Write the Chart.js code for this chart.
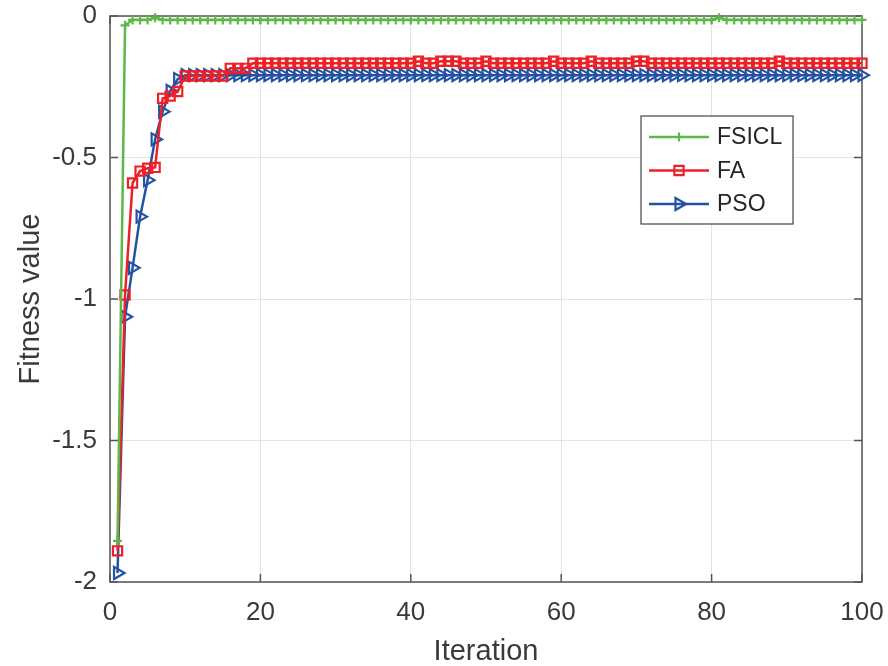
<!DOCTYPE html>
<html>
<head>
<meta charset="utf-8">
<script src="https://cdn.jsdelivr.net/npm/chart.js@4/dist/chart.umd.min.js"></script>
<style>
  html, body { margin: 0; padding: 0; background: #fff; }
  #wrap { width: 888px; height: 666px; }
</style>
</head>
<body>
<div id="wrap"><canvas id="grafico"></canvas></div>
<script>
// dados (iteracao 1..100)
const iteracoes = [];
for (let i = 1; i <= 100; i++) iteracoes.push(i);

// FSICL: sobe quase direto pra perto de zero
const fsiclInicio = [-1.855, -0.033, -0.014, -0.014, -0.014, -0.006];
const fsiclPlato = -0.014;
const fsiclPicos = { 81: -0.006 };

// FA
const faInicio = [-1.89, -0.986, -0.59, -0.548, -0.538, -0.535, -0.291, -0.283, -0.267,
  -0.212, -0.212, -0.212, -0.212, -0.212, -0.212, -0.185, -0.185, -0.185];
const faPlato = -0.167;
const faPicos = [41, 44, 45, 46, 50, 59, 64, 70, 71, 89];
const faPico = -0.160;

// PSO
const psoInicio = [-1.968, -1.063, -0.89, -0.709, -0.58, -0.436, -0.338, -0.265, -0.223];
const psoPlato = -0.209;

const xTicks = [0, 20, 40, 60, 80, 100];
const yTicks = [0, -0.5, -1, -1.5, -2];

// monta as series completas a partir dos pedacos acima
const fsicl = iteracoes.map(function (it) {
  if (it <= fsiclInicio.length) return fsiclInicio[it - 1];
  if (fsiclPicos[it] !== undefined) return fsiclPicos[it];
  return fsiclPlato;
});
const fa = iteracoes.map(function (it) {
  if (it <= faInicio.length) return faInicio[it - 1];
  if (faPicos.indexOf(it) >= 0) return faPico;
  return faPlato;
});
const pso = iteracoes.map(function (it) {
  if (it <= psoInicio.length) return psoInicio[it - 1];
  return psoPlato;
});

const fonte = "'Liberation Sans', Arial, Helvetica, sans-serif";
const corTexto = "#3a3a3a";
const corEixo = "#555555";

function pontos(valores) {
  return iteracoes.map(function (it, i) { return { x: it, y: valores[i] }; });
}

const series = [
  { nome: "FSICL", valores: fsicl, cor: "#5cb946", marcador: "cross", raio: 4.5, rot: 0 },
  { nome: "FA", valores: fa, cor: "#ee2027", marcador: "rect", raio: 6.5, rot: 0 },
  { nome: "PSO", valores: pso, cor: "#2452a3", marcador: "triangle", raio: 7, rot: 90 }
];

// tira o espaco extra que o chart.js reserva pros rotulos das pontas
function semSobra(s) {
  s.paddingTop = 0; s.paddingBottom = 0; s.paddingLeft = 0; s.paddingRight = 0;
}

// moldura + ticks pra dentro, estilo matlab
const moldura = {
  id: "moldura",
  beforeDatasetsDraw(chart) {
    const ctx = chart.ctx;
    const a = chart.chartArea;
    const sx = chart.scales.x, sy = chart.scales.y;
    ctx.save();
    ctx.strokeStyle = corEixo;
    ctx.lineWidth = 1.5;
    ctx.strokeRect(a.left, a.top, a.right - a.left, a.bottom - a.top);
    ctx.beginPath();
    xTicks.forEach(function (v) {
      const px = sx.getPixelForValue(v);
      ctx.moveTo(px, a.bottom); ctx.lineTo(px, a.bottom - 8);
      ctx.moveTo(px, a.top); ctx.lineTo(px, a.top + 8);
    });
    yTicks.forEach(function (v) {
      const py = sy.getPixelForValue(v);
      ctx.moveTo(a.left, py); ctx.lineTo(a.left + 8, py);
      ctx.moveTo(a.right, py); ctx.lineTo(a.right - 8, py);
    });
    ctx.stroke();
    ctx.restore();
  }
};

// legenda desenhada na mao dentro da area
const legenda = {
  id: "legenda",
  afterDraw(chart) {
    const ctx = chart.ctx;
    const x0 = 641, y0 = 116, w = 152, h = 108;
    ctx.save();
    ctx.fillStyle = "#ffffff";
    ctx.fillRect(x0, y0, w, h);
    ctx.strokeStyle = "#444444";
    ctx.lineWidth = 1.2;
    ctx.strokeRect(x0, y0, w, h);
    ctx.font = "23px " + fonte;
    ctx.textBaseline = "middle";
    series.forEach(function (s, i) {
      const y = y0 + 21 + i * 33.5;
      ctx.strokeStyle = s.cor;
      ctx.lineWidth = 2.5;
      ctx.beginPath();
      ctx.moveTo(x0 + 8, y);
      ctx.lineTo(x0 + 68, y);
      ctx.stroke();
      ctx.fillStyle = "rgba(0,0,0,0)";
      ctx.lineWidth = 2.2;
      Chart.helpers.drawPoint(ctx, {
        pointStyle: s.marcador, radius: s.raio, rotation: s.rot, borderWidth: 2.2
      }, x0 + 38, y);
      ctx.fillStyle = "#262626";
      ctx.fillText(s.nome, x0 + 76, y + 1);
    });
    ctx.restore();
  }
};

const ctx = document.getElementById("grafico").getContext("2d");
new Chart(ctx, {
  type: "line",
  data: {
    datasets: series.map(function (s) {
      return {
        label: s.nome,
        data: pontos(s.valores),
        borderColor: s.cor,
        borderWidth: 2.5,
        pointStyle: s.marcador,
        pointRadius: s.raio,
        pointRotation: s.rot,
        pointBorderColor: s.cor,
        pointBackgroundColor: "rgba(0,0,0,0)",
        pointBorderWidth: 2.2,
        tension: 0,
        clip: false
      };
    })
  },
  options: {
    responsive: true,
    maintainAspectRatio: false,
    animation: false,
    layout: { padding: { left: 0, top: 16, right: 26, bottom: 0 } },
    plugins: {
      legend: { display: false },
      tooltip: { enabled: false }
    },
    scales: {
      x: {
        type: "linear",
        min: 0, max: 100,
        afterBuildTicks: function (s) { s.ticks = xTicks.map(function (v) { return { value: v }; }); },
        afterFit: function (s) { s.height = 84; semSobra(s); },
        grid: { color: "#e3e3e3", lineWidth: 1, drawTicks: false },
        border: { display: false },
        ticks: { color: corTexto, font: { family: fonte, size: 26 }, padding: 15, maxRotation: 0 },
        title: {
          display: true, text: "Iteration", color: corTexto,
          font: { family: fonte, size: 29, lineHeight: 1 }, padding: { top: 0, bottom: 0 }
        }
      },
      y: {
        min: -2, max: 0,
        afterBuildTicks: function (s) { s.ticks = yTicks.map(function (v) { return { value: v }; }); },
        afterFit: function (s) { s.width = 110; semSobra(s); },
        grid: { color: "#e3e3e3", lineWidth: 1, drawTicks: false },
        border: { display: false },
        ticks: {
          color: corTexto, font: { family: fonte, size: 26 }, padding: 13,
          callback: function (v) { return String(v); }
        },
        title: {
          display: true, text: "Fitness value", color: corTexto,
          font: { family: fonte, size: 29, lineHeight: 1 }, padding: { top: 16, bottom: 0 }
        }
      }
    }
  },
  plugins: [moldura, legenda]
});
</script>
</body>
</html>
